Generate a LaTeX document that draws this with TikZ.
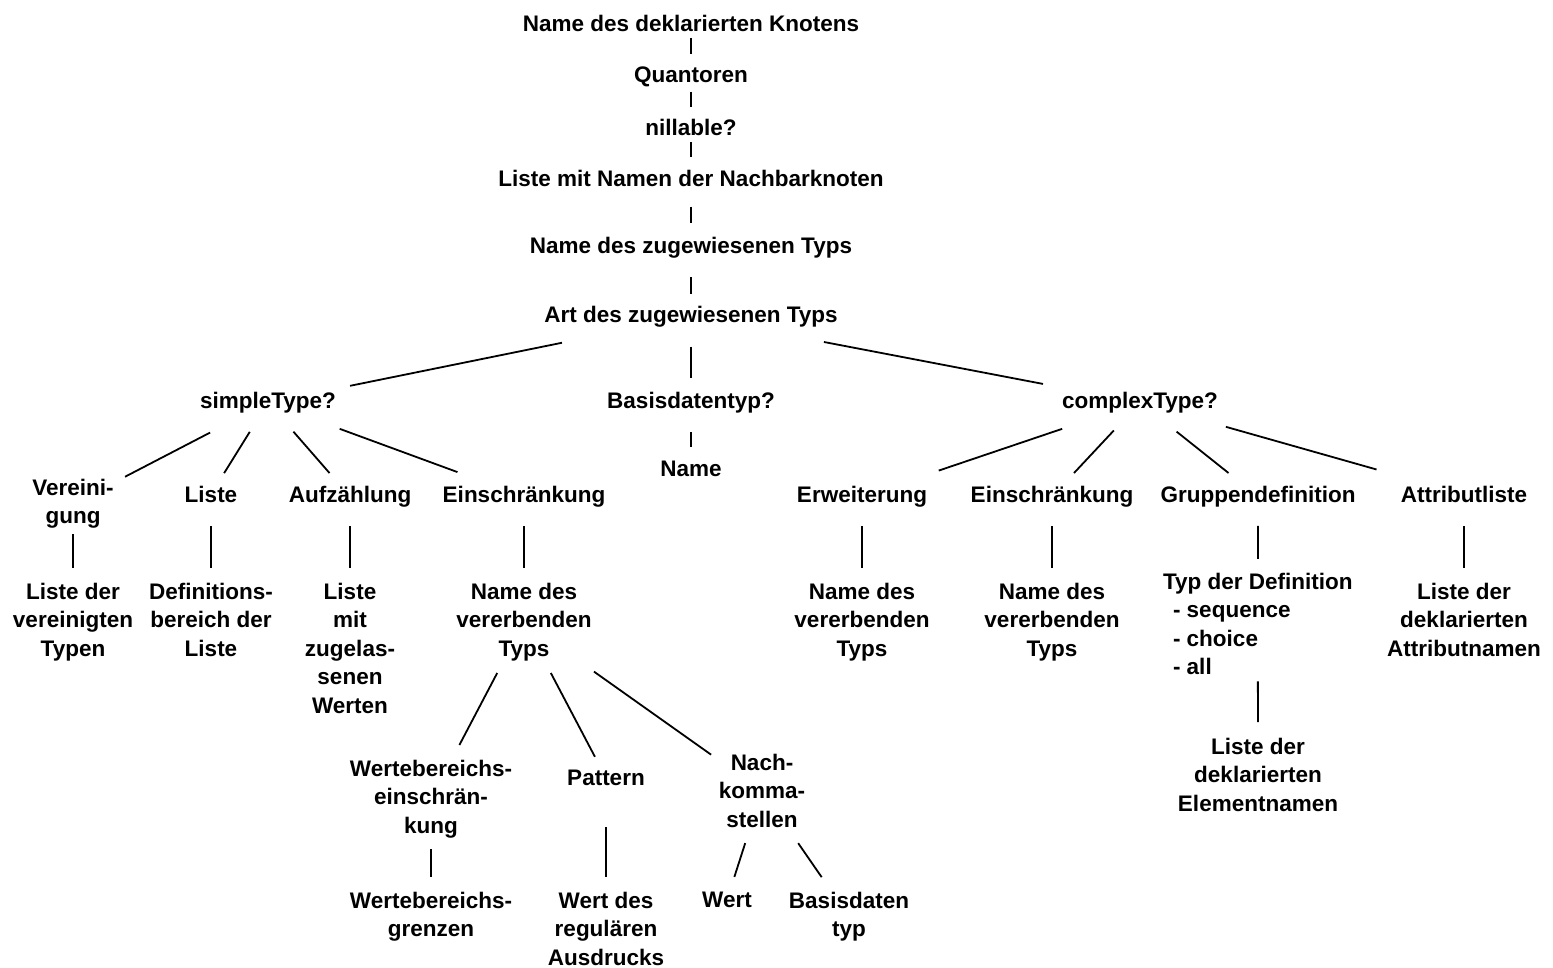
\documentclass[tikz,border=0pt]{standalone}
\usepackage{fontspec}
\setmainfont{Liberation Sans}
\usetikzlibrary{calc}

\begin{document}
\begin{tikzpicture}[
x = 1pt, y = -1pt,
lbl/.style={
  inner sep=0pt,
  outer sep=0pt,
  anchor=north,
  align=center,
  font=\bfseries\fontsize{22.5}{28.5}\selectfont
  },
edge/.style={
  draw,
  line width=1.8pt
  }
]
\useasboundingbox (0,0) rectangle (1553,967);

\node[lbl] (knoten)  at (691,15)  {Name des deklarierten Knotens};
\node[lbl] (quant)   at (691,67)  {Quantoren};
\node[lbl] (nill)    at (691,119) {nillable?};
\node[lbl] (nachbar) at (691,170) {Liste mit Namen der Nachbarknoten};
\node[lbl] (zugew)   at (691,237) {Name des zugewiesenen Typs};
\node[lbl] (art)     at (691,306) {Art des zugewiesenen Typs};

\node[lbl] (simple)  at (268,392)  {simpleType?};
\node[lbl] (basis)   at (691,392)  {Basisdatentyp?};
\node[lbl] (complex) at (1140,392) {complexType?};
\node[lbl] (name)    at (691,461)  {Name};

\node[lbl] (verein)   at (73,479)   {Vereini-\\gung};
\node[lbl] (liste)    at (211,486)  {Liste};
\node[lbl] (aufz)     at (350,486)  {Aufzählung};
\node[lbl] (einschr)  at (524,486)  {Einschränkung};
\node[lbl] (erweit)   at (862,486)  {Erweiterung};
\node[lbl] (einschrb) at (1052,486) {Einschränkung};
\node[lbl] (gruppe)   at (1258,486) {Gruppendefinition};
\node[lbl] (attr)     at (1464,486) {Attributliste};

\node[lbl] (ltyp)    at (73,583)   {Liste der\\vereinigten\\Typen};
\node[lbl] (defber)  at (211,583)  {Definitions-\\bereich der\\Liste};
\node[lbl] (lwerte)  at (350,583)  {Liste\\mit\\zugelas-\\senen\\Werten};
\node[lbl] (vererb)  at (524,583)  {Name des\\vererbenden\\Typs};
\node[lbl] (vererbb) at (862,583)  {Name des\\vererbenden\\Typs};
\node[lbl] (vererbc) at (1052,583) {Name des\\vererbenden\\Typs};
\node[lbl, anchor=north west, align=left] (typdef) at (1163,573)
  {Typ der Definition\\\hspace*{10pt}- sequence\\\hspace*{10pt}- choice\\\hspace*{10pt}- all};
\node[lbl] (lattr)   at (1464,583) {Liste der\\deklarierten\\Attributnamen};
\node[lbl] (lelem)   at (1258,738) {Liste der\\deklarierten\\Elementnamen};

\node[lbl] (werteb)  at (431,760) {Wertebereichs-\\einschrän-\\kung};
\node[lbl] (pattern) at (606,770) {Pattern};
\node[lbl] (nachk)   at (762,754) {Nach-\\komma-\\stellen};

\node[lbl] (grenzen) at (431,892) {Wertebereichs-\\grenzen};
\node[lbl] (regaus)  at (606,892) {Wert des\\regulären\\Ausdrucks};
\node[lbl] (wert)    at (727,892) {Wert};
\node[lbl] (basisdt) at (849,892) {Basisdaten\\typ};

\foreach \a/\b/\s/\e in {
  knoten/quant/0.27/0.58, quant/nill/0.29/0.6, nill/nachbar/0.29/0.59,
  nachbar/zugew/0.41/0.64, zugew/art/0.43/0.67,
  art/simple/0.305/0.806, art/basis/0.35/0.72, art/complex/0.296/0.784,
  simple/verein/0.297/0.733, simple/liste/0.32/0.77,
  simple/aufz/0.31/0.75, simple/einschr/0.28/0.74,
  basis/name/0.45/0.67,
  complex/erweit/0.28/0.724, complex/einschrb/0.297/0.75,
  complex/gruppe/0.31/0.75, complex/attr/0.265/0.73,
  verein/ltyp/0.256/0.54, liste/defber/0.255/0.59,
  aufz/lwerte/0.195/0.47, einschr/vererb/0.236/0.57,
  erweit/vererbb/0.236/0.57, einschrb/vererbc/0.236/0.57,
  gruppe/typdef/0.23/0.49, typdef/lelem/0.38/0.65, attr/lattr/0.255/0.59,
  vererb/werteb/0.288/0.695, vererb/pattern/0.327/0.865,
  vererb/nachk/0.294/0.786,
  werteb/grenzen/0.425/0.663, pattern/regaus/0.325/0.657,
  nachk/wert/0.48/0.79, nachk/basisdt/0.416/0.686}
  \draw[edge] ($(\a)!\s!(\b)$) -- ($(\a)!\e!(\b)$);

\end{tikzpicture}
\end{document}
